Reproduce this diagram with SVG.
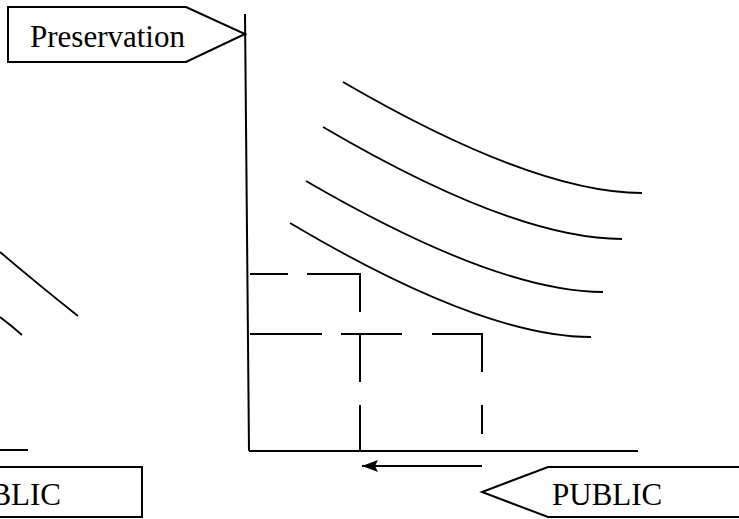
<svg xmlns="http://www.w3.org/2000/svg" width="739" height="519" viewBox="0 0 739 519">
<style>
.ln{fill:none;stroke:#000;stroke-width:2}
.cv{fill:none;stroke:#000;stroke-width:1.8}
.box{fill:#fff;stroke:#000;stroke-width:2}
.t{font-family:"Liberation Serif","Times New Roman",serif;font-size:31px;fill:#000}
</style>
<defs>
<marker id="ah" markerWidth="16" markerHeight="12" refX="16" refY="6" orient="auto" markerUnits="userSpaceOnUse">
<path d="M0,0 L16,6 L0,12 L3,6 Z" fill="#000"/>
</marker>
</defs>
<rect width="739" height="519" fill="#fff"/>
<g id="axes">
<line class="ln" x1="245" y1="14" x2="249" y2="451"/>
<line class="ln" x1="249" y1="451" x2="638" y2="451"/>
</g>
<g id="curves">
<path class="cv" d="M343,82 Q534,193 642,193"/>
<path class="cv" d="M323,127 Q514,239 622,239"/>
<path class="cv" d="M306,181 Q497,292 603,292"/>
<path class="cv" d="M290,223 Q482,337 591,337"/>
<path class="cv" d="M0,252 Q40,286 78,316"/>
<path class="cv" d="M0,317 Q12,326 22,335"/>
<line class="ln" x1="0" y1="450" x2="28" y2="450"/>
</g>
<g id="dashes">
<path class="ln" d="M250,274 H288 M307,274 H360 V312 M360,335 V382 M360,405 V451"/>
<path class="ln" d="M250,334 H322 M341,334 H402 M432,334 H482 V372 M482,405 V434"/>
</g>
<g id="connectors">
<line class="ln" x1="482" y1="466" x2="362" y2="466" marker-end="url(#ah)"/>
</g>
<g id="preservation">
<path class="box" d="M8,7 H186 L245,34 L186,62 H8 Z"/>
<text class="t" x="30" y="47">Preservation</text>
</g>
<g id="public-right">
<path class="box" d="M742,467 H548 L482,492 L548,517 H742"/>
<text class="t" x="552" y="505">PUBLIC</text>
</g>
<g id="public-left">
<path class="box" d="M-5,467 H142 V517 H-5"/>
<text class="t" x="61" y="505" text-anchor="end">PUBLIC</text>
</g>
</svg>
